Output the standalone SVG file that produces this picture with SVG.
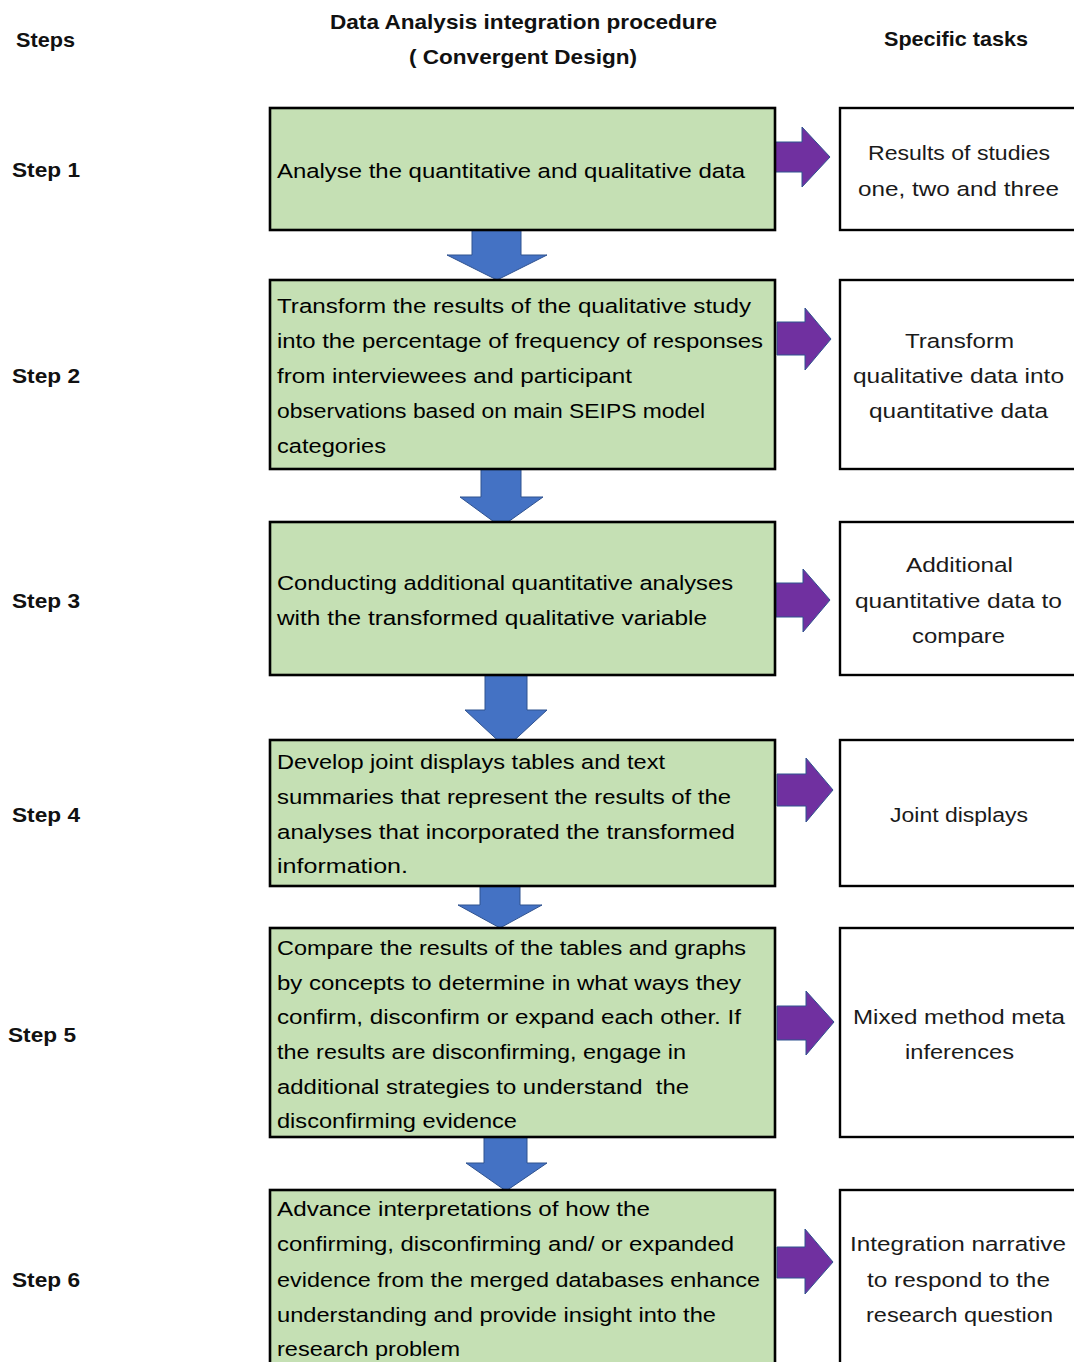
<svg xmlns="http://www.w3.org/2000/svg" width="1074" height="1362" viewBox="0 0 1074 1362">
  <style>
    .hd { font-family: "Liberation Sans", Arial, sans-serif; font-weight: bold; font-size: 21px; fill: #111; }
    .st { font-family: "Liberation Sans", Arial, sans-serif; font-weight: bold; font-size: 20px; fill: #111; }
    .tx { font-family: "Liberation Sans", Arial, sans-serif; font-size: 20.5px; fill: #000; }
    .rt { font-family: "Liberation Sans", Arial, sans-serif; font-size: 20.5px; fill: #1a1a1a; text-anchor: middle; }
    .proc { fill: #C5E0B4; stroke: #000; stroke-width: 2.6; }
    .task { fill: #fff; stroke: #000; stroke-width: 2.4; }
    .down { fill: #4472C4; stroke: #2F528F; stroke-width: 1; }
    .right { fill: #7030A0; stroke: #2F528F; stroke-width: 1; }
  </style>

  <!-- column headings -->
  <g id="headings">
    <text class="hd" x="16" y="47" textLength="59" lengthAdjust="spacingAndGlyphs">Steps</text>
    <text class="hd" x="330" y="29" textLength="387" lengthAdjust="spacingAndGlyphs">Data Analysis integration procedure</text>
    <text class="hd" x="409" y="64" textLength="228" lengthAdjust="spacingAndGlyphs">( Convergent Design)</text>
    <text class="hd" x="884" y="46" textLength="144" lengthAdjust="spacingAndGlyphs">Specific tasks</text>
  </g>

  <!-- step labels -->
  <g id="step-labels">
    <text id="step1" class="st" x="12" y="177" textLength="68" lengthAdjust="spacingAndGlyphs">Step 1</text>
    <text id="step2" class="st" x="12" y="383" textLength="68" lengthAdjust="spacingAndGlyphs">Step 2</text>
    <text id="step3" class="st" x="12" y="608" textLength="68" lengthAdjust="spacingAndGlyphs">Step 3</text>
    <text id="step4" class="st" x="12" y="822" textLength="68" lengthAdjust="spacingAndGlyphs">Step 4</text>
    <text id="step5" class="st" x="8" y="1042" textLength="68" lengthAdjust="spacingAndGlyphs">Step 5</text>
    <text id="step6" class="st" x="12" y="1287" textLength="68" lengthAdjust="spacingAndGlyphs">Step 6</text>
  </g>

  <!-- connectors: blue arrows between procedure boxes, purple arrows to task boxes -->
  <g id="connectors">
    <path class="down" d="M472,230 H521 V255 H547 L497,280 L447,255 H472 Z"/>
    <path class="down" d="M481,469 H521 V497 H543 L501,527 L460,497 H481 Z"/>
    <path class="down" d="M485,675 H527 V710 H547 L506,748 L465,710 H485 Z"/>
    <path class="down" d="M480,886 H520 V905 H542 L500,928 L458,905 H480 Z"/>
    <path class="down" d="M484,1137 H527 V1163 H547 L506,1191 L466,1163 H484 Z"/>

    <path class="right" d="M775,142 H802 V127 L830,157 L802,187 V172 H775 Z"/>
    <path class="right" d="M777,322 H805 V308 L831,339 L805,370 V355 H777 Z"/>
    <path class="right" d="M776,583 H803 V569 L830,600 L803,632 V617 H776 Z"/>
    <path class="right" d="M777,774 H806 V758 L833,790 L806,822 V806 H777 Z"/>
    <path class="right" d="M777,1006 H806 V991 L834,1022 L806,1055 V1040 H777 Z"/>
    <path class="right" d="M777,1247 H805 V1229 L833,1262 L805,1294 V1278 H777 Z"/>
  </g>

  <!-- procedure boxes -->
  <g id="proc1">
    <rect class="proc" x="270" y="108" width="505" height="122"/>
    <text class="tx" x="277" y="178" textLength="468" lengthAdjust="spacingAndGlyphs">Analyse the quantitative and qualitative data</text>
  </g>
  <g id="proc2">
    <rect class="proc" x="270" y="280" width="505" height="189"/>
    <text class="tx" x="277" y="313" textLength="474" lengthAdjust="spacingAndGlyphs">Transform the results of the qualitative study</text>
    <text class="tx" x="277" y="348" textLength="486" lengthAdjust="spacingAndGlyphs">into the percentage of frequency of responses</text>
    <text class="tx" x="277" y="383" textLength="355" lengthAdjust="spacingAndGlyphs">from interviewees and participant</text>
    <text class="tx" x="277" y="418" textLength="428" lengthAdjust="spacingAndGlyphs">observations based on main SEIPS model</text>
    <text class="tx" x="277" y="453" textLength="109" lengthAdjust="spacingAndGlyphs">categories</text>
  </g>
  <g id="proc3">
    <rect class="proc" x="270" y="522" width="505" height="153"/>
    <text class="tx" x="277" y="590" textLength="456" lengthAdjust="spacingAndGlyphs">Conducting additional quantitative analyses</text>
    <text class="tx" x="277" y="625" textLength="430" lengthAdjust="spacingAndGlyphs">with the transformed qualitative variable</text>
  </g>
  <g id="proc4">
    <rect class="proc" x="270" y="740" width="505" height="146"/>
    <text class="tx" x="277" y="769" textLength="388" lengthAdjust="spacingAndGlyphs">Develop joint displays tables and text</text>
    <text class="tx" x="277" y="804" textLength="454" lengthAdjust="spacingAndGlyphs">summaries that represent the results of the</text>
    <text class="tx" x="277" y="839" textLength="458" lengthAdjust="spacingAndGlyphs">analyses that incorporated the transformed</text>
    <text class="tx" x="277" y="873" textLength="131" lengthAdjust="spacingAndGlyphs">information.</text>
  </g>
  <g id="proc5">
    <rect class="proc" x="270" y="928" width="505" height="209"/>
    <text class="tx" x="277" y="955" textLength="469" lengthAdjust="spacingAndGlyphs">Compare the results of the tables and graphs</text>
    <text class="tx" x="277" y="990" textLength="464" lengthAdjust="spacingAndGlyphs">by concepts to determine in what ways they</text>
    <text class="tx" x="277" y="1024" textLength="464" lengthAdjust="spacingAndGlyphs">confirm, disconfirm or expand each other. If</text>
    <text class="tx" x="277" y="1059" textLength="409" lengthAdjust="spacingAndGlyphs">the results are disconfirming, engage in</text>
    <text class="tx" x="277" y="1094" textLength="412" lengthAdjust="spacingAndGlyphs" xml:space="preserve">additional strategies to understand  the</text>
    <text class="tx" x="277" y="1128" textLength="240" lengthAdjust="spacingAndGlyphs">disconfirming evidence</text>
  </g>
  <g id="proc6">
    <rect class="proc" x="270" y="1190" width="505" height="185"/>
    <text class="tx" x="277" y="1216" textLength="373" lengthAdjust="spacingAndGlyphs">Advance interpretations of how the</text>
    <text class="tx" x="277" y="1251" textLength="457" lengthAdjust="spacingAndGlyphs">confirming, disconfirming and/ or expanded</text>
    <text class="tx" x="277" y="1287" textLength="483" lengthAdjust="spacingAndGlyphs">evidence from the merged databases enhance</text>
    <text class="tx" x="277" y="1322" textLength="439" lengthAdjust="spacingAndGlyphs">understanding and provide insight into the</text>
    <text class="tx" x="277" y="1356" textLength="183" lengthAdjust="spacingAndGlyphs">research problem</text>
  </g>

  <!-- task boxes -->
  <g id="task1">
    <rect class="task" x="840" y="108" width="250" height="122"/>
    <text class="rt" x="959" y="160" textLength="182" lengthAdjust="spacingAndGlyphs">Results of studies</text>
    <text class="rt" x="958.5" y="196" textLength="201" lengthAdjust="spacingAndGlyphs">one, two and three</text>
  </g>
  <g id="task2">
    <rect class="task" x="840" y="280" width="250" height="189"/>
    <text class="rt" x="959.5" y="348" textLength="109" lengthAdjust="spacingAndGlyphs">Transform</text>
    <text class="rt" x="958.5" y="383" textLength="211" lengthAdjust="spacingAndGlyphs">qualitative data into</text>
    <text class="rt" x="958.5" y="418" textLength="179" lengthAdjust="spacingAndGlyphs">quantitative data</text>
  </g>
  <g id="task3">
    <rect class="task" x="840" y="522" width="250" height="153"/>
    <text class="rt" x="959.5" y="572" textLength="107" lengthAdjust="spacingAndGlyphs">Additional</text>
    <text class="rt" x="958.5" y="608" textLength="207" lengthAdjust="spacingAndGlyphs">quantitative data to</text>
    <text class="rt" x="958.5" y="643" textLength="93" lengthAdjust="spacingAndGlyphs">compare</text>
  </g>
  <g id="task4">
    <rect class="task" x="840" y="740" width="250" height="146"/>
    <text class="rt" x="959" y="822" textLength="138" lengthAdjust="spacingAndGlyphs">Joint displays</text>
  </g>
  <g id="task5">
    <rect class="task" x="840" y="928" width="250" height="209"/>
    <text class="rt" x="959" y="1024" textLength="212" lengthAdjust="spacingAndGlyphs">Mixed method meta</text>
    <text class="rt" x="959.5" y="1059" textLength="109" lengthAdjust="spacingAndGlyphs">inferences</text>
  </g>
  <g id="task6">
    <rect class="task" x="840" y="1190" width="250" height="185"/>
    <text class="rt" x="958" y="1251" textLength="216" lengthAdjust="spacingAndGlyphs">Integration narrative</text>
    <text class="rt" x="958.5" y="1287" textLength="183" lengthAdjust="spacingAndGlyphs">to respond to the</text>
    <text class="rt" x="959.5" y="1322" textLength="187" lengthAdjust="spacingAndGlyphs">research question</text>
  </g>
</svg>
